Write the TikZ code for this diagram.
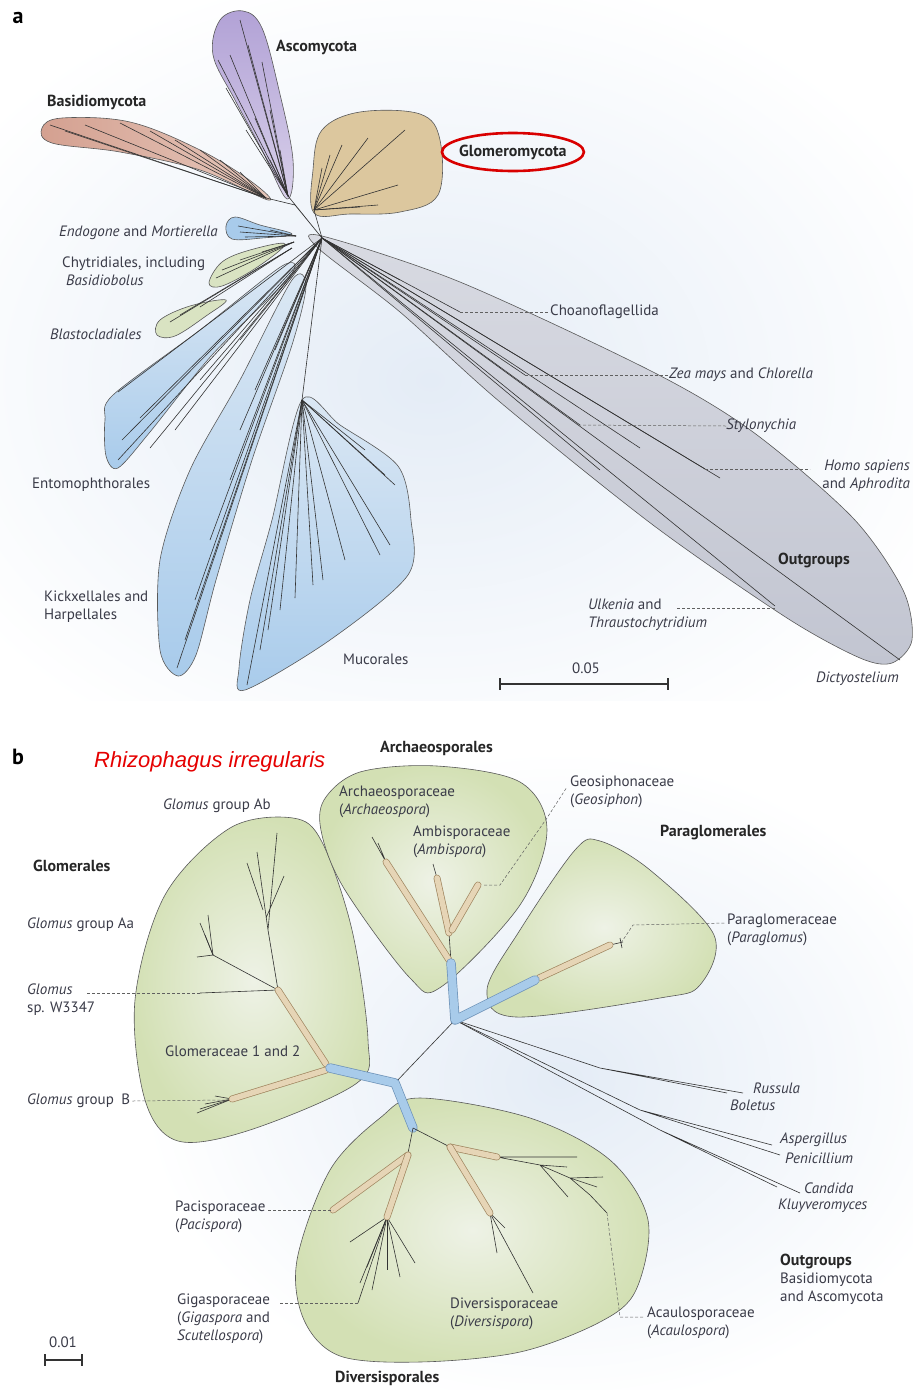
\documentclass[tikz,border=0pt]{standalone}
\usepackage{fontspec}
\setmainfont{PT Sans}
\newfontfamily\arialf{Liberation Sans}
\usetikzlibrary{calc,positioning}
\definecolor{labc}{HTML}{3A3B48}
\definecolor{bgb}{HTML}{E4ECF6}
\definecolor{ascoF}{HTML}{B2A2D6}
\definecolor{ascoL}{HTML}{D8D0EA}
\definecolor{basiF}{HTML}{D4A090}
\definecolor{basiL}{HTML}{E6C8BC}
\definecolor{gloF}{HTML}{DCC79E}
\definecolor{bluF}{HTML}{A8CBEB}
\definecolor{bluL}{HTML}{DCE8F4}
\definecolor{grnF}{HTML}{D9E3C2}
\definecolor{outF}{HTML}{C2C5D1}
\definecolor{outL}{HTML}{D8DAE2}
\definecolor{amfF}{HTML}{D3E0B4}
\definecolor{amfL}{HTML}{EEF2E6}
\definecolor{tanedge}{HTML}{A08660}
\definecolor{tanin}{HTML}{E6D5B6}
\definecolor{bluedge}{HTML}{6E93B8}
\definecolor{bluein}{HTML}{A8CBEA}

\begin{document}
\begin{tikzpicture}[x=1pt,y=-1pt,
  lab/.style={font=\fontsize{15}{18}\selectfont,text=labc,inner sep=0pt,anchor=west},
  labb/.style={lab,align=left,anchor=north west},
  hd/.style={lab,font=\fontsize{16}{18}\selectfont\bfseries,text=black!85},
  lead/.style={gray!75!black,line width=0.5pt,dash pattern=on 3pt off 2pt},
  br/.style={line width=0.6pt,black!80},
  lobe/.style={draw=black!65,line width=0.6pt},
  tube/.style={draw=tanedge,double=tanin,double distance=5.5pt,line width=0.7pt,line cap=round},
  btube/.style={draw=bluedge,double=bluein,double distance=8pt,line width=0.7pt,line join=round,line cap=round}]
\useasboundingbox (0,0) rectangle (913,1390);

% backgrounds
\begin{scope}
\clip (0,0) rectangle (913,700);
\shade[inner color=bgb,outer color=white] (430,380) ellipse (560 and 420);
\end{scope}
\begin{scope}
\clip (0,700) rectangle (913,1390);
\shade[inner color=bgb,outer color=white] (560,1080) ellipse (420 and 330);
\end{scope}

%% panel a
\node[font=\fontsize{22}{22}\selectfont\bfseries,inner sep=0pt] (pa) at (18,18) {a};

% lobes
\shadedraw[top color=ascoF,bottom color=ascoL,lobe] plot[smooth cycle,tension=0.6] coordinates {(287,199) (262,150) (235,100) (213,55) (220,20) (243,11) (262,28) (279,90) (293,160)};
\shadedraw[left color=basiF,right color=basiL,lobe] plot[smooth cycle,tension=0.6] coordinates {(268,200) (200,170) (120,152) (52,143) (42,128) (62,118) (130,122) (200,150) (252,182)};
\fill[gloF,lobe] plot[smooth cycle,tension=0.6] coordinates {(314,213) (313,170) (322,130) (360,112) (420,114) (440,140) (438,195) (400,212) (350,214)};
\fill[bluF,lobe] plot[smooth cycle,tension=0.6] coordinates {(292,234) (260,225) (235,217) (226,226) (232,239) (262,238)};
\fill[grnF,lobe] plot[smooth cycle,tension=0.6] coordinates {(285,244) (250,250) (222,262) (209,283) (222,286) (256,268)};
\fill[grnF,lobe] plot[smooth cycle,tension=0.6] coordinates {(226,300) (190,306) (160,320) (157,335) (175,336) (206,316)};
\shadedraw[top color=bluL,bottom color=bluF,lobe] plot[smooth cycle,tension=0.5] coordinates {(105,420) (113,395) (200,330) (282,266) (290,276) (212,355) (150,432) (118,468) (106,456)};
\shadedraw[top color=bluL,bottom color=bluF,lobe] plot[smooth cycle,tension=0.5] coordinates {(160,560) (190,470) (240,380) (292,280) (306,286) (292,345) (252,460) (216,580) (196,655) (178,676) (160,650)};
\shadedraw[top color=bluL,bottom color=bluF,lobe] plot[smooth cycle,tension=0.5] coordinates {(302,400) (340,425) (398,466) (411,520) (408,575) (330,640) (245,690) (239,668) (250,600) (272,520)};
\shadedraw[top color=outL,bottom color=outF,lobe] plot[smooth cycle,tension=0.5] coordinates {(322,236) (460,282) (653,372) (753,432) (853,518) (903,590) (912,640) (892,663) (860,658) (787,618) (653,525) (500,402) (400,312) (318,248)};

% tree
\coordinate (rootA) at (322,238);
\coordinate (hAsco) at (288,196);
\coordinate (hBasi) at (266,198);
\coordinate (hGlo) at (314,210);
\coordinate (hMuc) at (302,400);
\draw[br] (rootA) -- (hAsco) (rootA) -- (295,205) -- (hBasi) (rootA) -- (hGlo) (rootA) -- (hMuc);
\foreach \p in {(240,20),(248,45),(230,55),(262,62),(218,60),(226,88),(270,110),(255,118),(246,130),(280,150),(270,160),(278,178)}
  \draw[br] (hAsco) -- \p;
\foreach \p in {(50,125),(65,131),(85,125),(120,123),(150,131),(175,140),(200,150),(220,160),(240,172)}
  \draw[br] (hBasi) -- \p;
\foreach \p in {(405,130),(368,138),(342,145),(330,155),(398,185),(378,205),(360,207),(322,168)}
  \draw[br] (hGlo) -- \p;
\foreach \p in {(238,226),(240,232),(245,237),(270,230)}
  \draw[br] (296,236) -- \p;
\foreach \p in {(216,278),(222,270),(240,260),(262,252)}
  \draw[br] (294,242) -- \p;
\foreach \p in {(170,322),(180,315),(200,307)}
  \draw[br] (292,248) -- \p;
\foreach \p in {(118,460),(122,440),(118,392),(140,418),(150,448),(175,430),(200,380),(240,340),(177,668),(185,640),(195,600),(210,540),(230,480),(240,430),(255,390),(275,350)}
  \draw[br] (rootA) -- \p;
\foreach \p in {(247,685),(260,650),(268,630),(280,610),(295,598),(313,585),(323,580),(345,560),(395,485),(385,475),(365,450),(380,555),(390,545)}
  \draw[br] (hMuc) -- \p;
\foreach \p in {(900,660),(775,606),(705,469),(720,478),(640,448),(580,425),(525,375),(460,312),(400,280),(600,470)}
  \draw[br] (rootA) -- \p;

% labels a
\node[hd] (lAsco) at (276,47) {Ascomycota};
\node[hd] (lBasi) at (47,102) {Basidiomycota};
\node[hd] (lGlo) at (459,152) {Glomeromycota};
\draw[red!85!black,line width=2.6pt] (lGlo.center) ellipse (71 and 19);
\node[lab,anchor=east] (lEndo) at (218,233) {\textit{Endogone} and \textit{Mortierella}};
\node[labb] (lChyt) at (62,257) {Chytridiales, including\\\hspace*{4pt}\textit{Basidiobolus}};
\node[lab] (lBlas) at (50,334) {\textit{Blastocladiales}};
\node[lab] (lEnto) at (32,485) {Entomophthorales};
\node[labb] (lKick) at (44,591) {Kickxellales and\\Harpellales};
\node[lab] (lMuco) at (343,659) {Mucorales};
\node[lab] (lChoa) at (550,312) {Choanoflagellida};
\node[lab] (lZea) at (669,375) {\textit{Zea mays} and \textit{Chlorella}};
\node[lab] (lStyl) at (726,426) {\textit{Stylonychia}};
\node[lab,align=right,anchor=north east] (lHomo) at (910,460) {\textit{Homo sapiens}\\and \textit{Aphrodita}};
\node[hd] (lOutA) at (778,560) {Outgroups};
\node[labb] (lUlke) at (588,599) {\textit{Ulkenia} and\\\textit{Thraustochytridium}};
\node[lab] (lDict) at (816,679) {\textit{Dictyostelium}};
\node[lab,anchor=center] (lScA) at (586,668) {0.05};

\coordinate (cChoa) at (460,312);
\coordinate (cZea) at (525,375);
\coordinate (cStyl) at (578,425);
\coordinate (cHomo) at (705,469);
\coordinate (eHomo) at (810,469);
\coordinate (cUlke) at (775,608);
\coordinate (eUlke) at (677,608);
\draw[lead] (cChoa) -- (lChoa.west);
\draw[lead] (cZea) -- (lZea.west);
\draw[lead] (cStyl) -- (lStyl.west);
\draw[lead] (cHomo) -- (eHomo);
\draw[lead] (eUlke) -- (cUlke);
\coordinate (sA1) at (500,684);
\coordinate (sA2) at (668,684);
\draw[line width=1.2pt,black!80] (sA1) -- (sA2) (500,678) -- (500,690) (668,678) -- (668,690);

%% panel b
\node[font=\fontsize{22}{22}\selectfont\bfseries,inner sep=0pt] (pb) at (18,757) {b};
\node[font=\arialf\fontsize{22}{22}\selectfont\itshape,text=red!90!black,inner sep=0pt,anchor=west] (lRhiz) at (94,762) {Rhizophagus irregularis};

% lobes b
\shadedraw[inner color=amfL,outer color=amfF,lobe] plot[smooth cycle,tension=0.55] coordinates {(293,818) (230,828) (165,895) (135,1000) (145,1100) (178,1141) (250,1130) (357,1083) (368,1040) (352,930) (322,842)};
\shadedraw[inner color=amfL,outer color=amfF,lobe] plot[smooth cycle,tension=0.55] coordinates {(324,800) (360,772) (437,766) (520,782) (547,830) (520,905) (441,987) (410,978) (345,890) (322,835)};
\shadedraw[inner color=amfL,outer color=amfF,lobe] plot[smooth cycle,tension=0.55] coordinates {(600,841) (650,870) (714,935) (700,985) (660,998) (516,1017) (487,990) (520,930) (575,850)};
\shadedraw[inner color=amfL,outer color=amfF,lobe] plot[smooth cycle,tension=0.55] coordinates {(420,1098) (530,1118) (610,1160) (648,1220) (636,1290) (600,1322) (520,1352) (420,1362) (340,1356) (304,1320) (297,1260) (330,1170) (380,1118)};

% tree b
\coordinate (hCen) at (455,1020);
\coordinate (hLow) at (395,1083);
\draw[br] (hCen) -- (hLow);
\draw[br] (hCen) -- (600,1068) -- (743,1093) (600,1068) -- (727,1093);
\draw[br] (hCen) -- (640,1110) -- (772,1145) (640,1110) -- (780,1155);
\draw[br] (hCen) -- (660,1130) -- (800,1193) (660,1130) -- (777,1187);
% Glomerales
\draw[br] (278,990) -- (200,993);
\draw[br] (278,990) -- (268,930) -- (277,833) (268,930) -- (257,852) (263,910) -- (247,863) (266,918) -- (284,876);
\draw[br] (278,990) -- (213,955);
\foreach \p in {(200,923),(208,915),(197,957),(205,935)}
  \draw[br] (213,955) -- \p;
\foreach \p in {(197,1113),(205,1104),(215,1096),(200,1109)}
  \draw[br] (232,1099) -- \p;
\draw[tube] (326,1064) -- (278,990);
\draw[tube] (326,1070) -- (232,1099);
\draw[btube] (330,1068) -- (hLow) -- (413,1128);
% Archaeosporales / Paraglomerales
\draw[br] (386,862) -- (372,837) (386,862) -- (378,843);
\draw[br] (437,878) -- (433,864) (449,933) -- (451,962);
\draw[tube] (449,960) -- (386,862);
\draw[tube] (449,933) -- (437,878);
\draw[tube] (452,930) -- (478,885);
\draw[br] (610,945) -- (623,942) (620,938) -- (622,948);
\draw[tube] (539,978) -- (610,945);
\draw[btube] (451,963) -- (hCen) -- (535,980);
% Diversisporales
\draw[br] (413,1128) -- (408,1153) (413,1128) -- (450,1147);
\foreach \p in {(350,1242),(360,1283),(367,1267),(387,1270),(400,1277),(415,1263),(358,1303),(372,1290)}
  \draw[br] (387,1217) -- \p;
\draw[br] (497,1157) -- (577,1157) (497,1157) -- (540,1165) -- (567,1167) (540,1165) -- (570,1178) -- (603,1177) (570,1178) -- (597,1187) (540,1165) -- (568,1197) (570,1178) -- (590,1195) -- (607,1213);
\draw[br] (490,1213) -- (533,1293) (490,1213) -- (497,1253) (490,1213) -- (505,1228);
\draw[tube] (408,1155) -- (333,1210);
\draw[tube] (408,1155) -- (387,1217);
\draw[tube] (450,1147) -- (497,1157);
\draw[tube] (450,1147) -- (490,1213);

% labels b
\node[hd] (lArcO) at (380,748) {Archaeosporales};
\node[labb] (lArcF) at (339,786) {Archaeosporaceae\\(\textit{Archaeospora})};
\node[labb] (lAmbi) at (413,826) {Ambisporaceae\\(\textit{Ambispora})};
\node[labb] (lGeos) at (570,776) {Geosiphonaceae\\(\textit{Geosiphon})};
\node[hd] (lParO) at (660,833) {Paraglomerales};
\node[labb] (lParF) at (727,914) {Paraglomeraceae\\(\textit{Paraglomus})};
\node[lab] (lGAb) at (163,806) {\textit{Glomus} group Ab};
\node[hd] (lGloO) at (33,866) {Glomerales};
\node[lab] (lGAa) at (27,925) {\textit{Glomus} group Aa};
\node[labb] (lGsp) at (27,984) {\textit{Glomus}\\sp. W3347};
\node[lab] (lGfam) at (165,1051) {Glomeraceae 1 and 2};
\node[lab] (lGB) at (27,1101) {\textit{Glomus} group\enspace B};
\node[lab] (lRuss) at (753,1088) {\textit{Russula}};
\node[lab] (lBole) at (730,1105) {\textit{Boletus}};
\node[lab] (lAspe) at (780,1140) {\textit{Aspergillus}};
\node[lab] (lPeni) at (785,1158) {\textit{Penicillium}};
\node[lab] (lCand) at (804,1188) {\textit{Candida}};
\node[lab] (lKluy) at (778,1206) {\textit{Kluyveromyces}};
\node[labb] (lPaci) at (175,1201) {Pacisporaceae\\(\textit{Pacispora})};
\node[labb] (lGiga) at (177,1294) {Gigasporaceae\\(\textit{Gigaspora} and\\\textit{Scutellospora})};
\node[labb] (lDive) at (450,1298) {Diversisporaceae\\(\textit{Diversispora})};
\node[labb] (lAcau) at (647,1307) {Acaulosporaceae\\(\textit{Acaulospora})};
\node[hd] (lOutB) at (780,1261) {Outgroups};
\node[labb] (lOutT) at (780,1273) {Basidiomycota\\and Ascomycota};
\node[hd] (lDivO) at (335,1378) {Diversisporales};
\node[lab,anchor=center] (lScB) at (63,1342) {0.01};
\draw[line width=1.2pt,black!80] (45,1360) -- (82,1360) (45,1354) -- (45,1366) (82,1354) -- (82,1366);

% leaders b
\coordinate (cGeos) at (484,885);
\coordinate (eGeos) at (567,787);
\coordinate (cParF) at (621,943);
\coordinate (eParF) at (726,923);
\coordinate (cGsp) at (200,993);
\coordinate (eGsp) at (87,993);
\coordinate (cGB) at (225,1100);
\coordinate (cPaci) at (333,1210);
\coordinate (ePaci) at (268,1210);
\coordinate (cGiga) at (358,1303);
\coordinate (eGiga) at (280,1303);
\coordinate (cAcau) at (607,1213);
\coordinate (eAcau) at (645,1317);
\draw[lead] (cGeos) -- (500,885) -- (547,818) -- (eGeos);
\draw[lead] (cParF) -- (633,925) -- (eParF);
\draw[lead] (eGsp) -- (cGsp);
\draw[lead] ([xshift=2pt]lGB.east) -- (cGB);
\draw[lead] (ePaci) -- (cPaci);
\draw[lead] (eGiga) -- (cGiga);
\draw[lead] (cAcau) -- (620,1317) -- (eAcau);
\end{tikzpicture}
\end{document}
